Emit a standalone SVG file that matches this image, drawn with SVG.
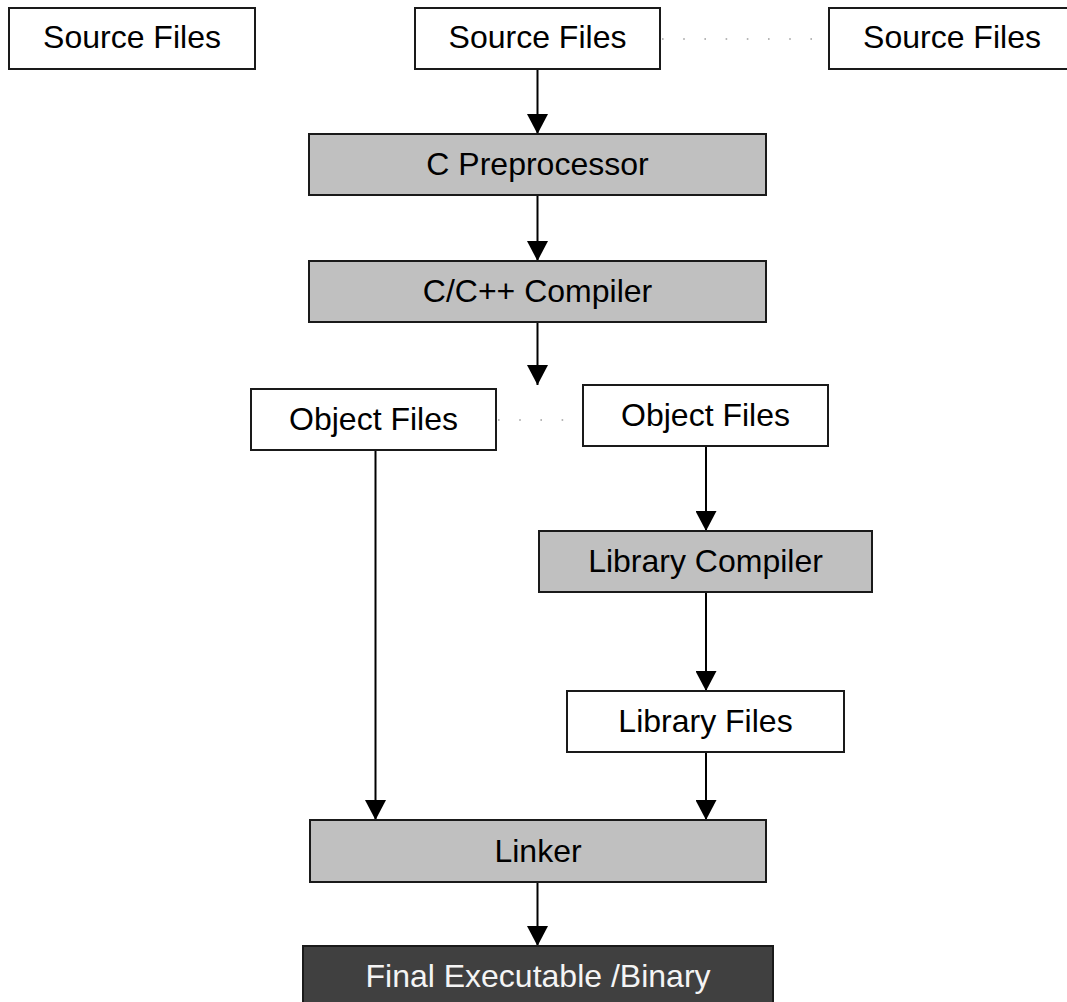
<svg xmlns="http://www.w3.org/2000/svg" width="1067" height="1002" viewBox="0 0 1067 1002">
  <defs>
    <marker id="arr" markerUnits="userSpaceOnUse" markerWidth="20" markerHeight="21" refX="20" refY="10.5" orient="auto">
      <path d="M0,0 L20,10.5 L0,21 Z" fill="#000"/>
    </marker>
    <style>
      .box { stroke: #1a1a1a; stroke-width: 2; }
      .white { fill: #ffffff; }
      .grey { fill: #c0c0c0; }
      .dark { fill: #404040; }
      .lbl { font-family: "Liberation Sans", Arial, Helvetica, sans-serif; font-size: 32px; fill: #000; text-anchor: middle; }
      .lbl-w { fill: #f4f4f4; }
      .conn { stroke: #000; stroke-width: 2; fill: none; }
      .dot { stroke: #a0a0a0; stroke-width: 1.6; stroke-dasharray: 1.6 19.6; fill: none; }
    </style>
  </defs>
  <rect width="1067" height="1002" fill="#ffffff"/>

  <g id="connectors">
    <line class="dot" x1="662" y1="39" x2="829" y2="39"/>
    <line class="dot" x1="498" y1="420" x2="583" y2="420"/>
    <line class="conn" x1="537.5" y1="69" x2="537.5" y2="134" marker-end="url(#arr)"/>
    <line class="conn" x1="537.5" y1="195" x2="537.5" y2="261" marker-end="url(#arr)"/>
    <line class="conn" x1="537.5" y1="322" x2="537.5" y2="385" marker-end="url(#arr)"/>
    <line class="conn" x1="706" y1="446" x2="706" y2="531" marker-end="url(#arr)"/>
    <line class="conn" x1="706" y1="592" x2="706" y2="691" marker-end="url(#arr)"/>
    <line class="conn" x1="706" y1="752" x2="706" y2="820" marker-end="url(#arr)"/>
    <line class="conn" x1="375.5" y1="450" x2="375.5" y2="820" marker-end="url(#arr)"/>
    <line class="conn" x1="537.5" y1="882" x2="537.5" y2="946" marker-end="url(#arr)"/>
  </g>

  <g id="source-files-1">
    <rect class="box white" x="9" y="8" width="246" height="61"/>
    <text class="lbl" x="132" y="48">Source Files</text>
  </g>
  <g id="source-files-2">
    <rect class="box white" x="415" y="8" width="245" height="61"/>
    <text class="lbl" x="537.5" y="48">Source Files</text>
  </g>
  <g id="source-files-3">
    <rect class="box white" x="829" y="8" width="246" height="61"/>
    <text class="lbl" x="952" y="48">Source Files</text>
  </g>
  <g id="c-preprocessor">
    <rect class="box grey" x="309" y="134" width="457" height="61"/>
    <text class="lbl" x="537.5" y="175">C Preprocessor</text>
  </g>
  <g id="compiler">
    <rect class="box grey" x="309" y="261" width="457" height="61"/>
    <text class="lbl" x="537.5" y="302">C/C++ Compiler</text>
  </g>
  <g id="object-files-1">
    <rect class="box white" x="251" y="389" width="245" height="61"/>
    <text class="lbl" x="373.5" y="430">Object Files</text>
  </g>
  <g id="object-files-2">
    <rect class="box white" x="583" y="385" width="245" height="61"/>
    <text class="lbl" x="705.5" y="426">Object Files</text>
  </g>
  <g id="library-compiler">
    <rect class="box grey" x="539" y="531" width="333" height="61"/>
    <text class="lbl" x="705.5" y="572">Library Compiler</text>
  </g>
  <g id="library-files">
    <rect class="box white" x="567" y="691" width="277" height="61"/>
    <text class="lbl" x="705.5" y="732">Library Files</text>
  </g>
  <g id="linker">
    <rect class="box grey" x="310" y="820" width="456" height="62"/>
    <text class="lbl" x="538" y="862">Linker</text>
  </g>
  <g id="final-binary">
    <rect class="box dark" x="303" y="946" width="470" height="62"/>
    <text class="lbl lbl-w" x="538" y="987">Final Executable /Binary</text>
  </g>
</svg>
